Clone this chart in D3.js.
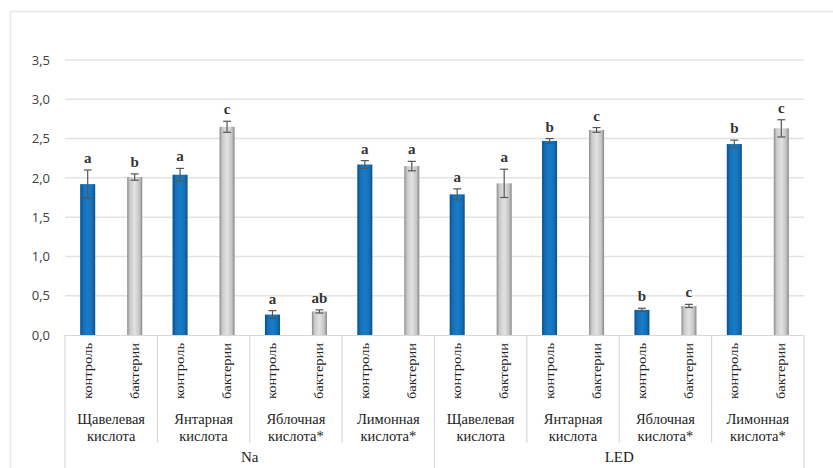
<!DOCTYPE html>
<html><head><meta charset="utf-8">
<script src="https://cdn.jsdelivr.net/npm/d3@7"></script>
<style>body{margin:0;background:#fff;} svg{display:block;}</style>
</head><body>
<svg id="c" width="833" height="468"></svg>
<script>
const groups = ["Na", "LED"];
const acids = [["Щавелевая","кислота"],["Янтарная","кислота"],["Яблочная","кислота*"],["Лимонная","кислота*"]];
const treatments = ["контроль", "бактерии"];
const controlValues = [1.92, 2.04, 0.26, 2.17, 1.79, 2.47, 0.32, 2.43];
const controlErrors = [0.18, 0.08, 0.05, 0.05, 0.07, 0.03, 0.02, 0.05];
const bacteriaValues = [2.01, 2.65, 0.30, 2.15, 1.93, 2.61, 0.37, 2.63];
const bacteriaErrors = [0.04, 0.07, 0.02, 0.06, 0.18, 0.03, 0.02, 0.11];
const controlLetters = ["a","a","a","a","a","b","b","b"];
const bacteriaLetters = ["b","c","ab","a","a","c","c","c"];
const yTicks = [0, 0.5, 1.0, 1.5, 2.0, 2.5, 3.0, 3.5];

const svg = d3.select("#c");
const x0 = 65, x1 = 804, yBase = 335, yTop = 60;
const cats = [];
groups.forEach((g, gi) => acids.forEach((a, ai) => cats.push({g, gi, a, ai, i: gi*4+ai})));

const x = d3.scaleBand().domain(cats.map(c => c.i)).range([x0, x1]).padding(0);
const xi = d3.scaleBand().domain(treatments).range([0, x.bandwidth()]).paddingInner(0.68).paddingOuter(0.323);
const y = d3.scaleLinear().domain([0, 3.5]).range([yBase, yTop]);

// chart border
svg.append("path").attr("d", `M10.5,${468} V11.5 H833`).attr("fill","none").attr("stroke","#e6e6e6").attr("stroke-width",1.5);

const defs = svg.append("defs");
function grad(id, stops){
  const g = defs.append("linearGradient").attr("id", id).attr("x1","0").attr("x2","1").attr("y1","0").attr("y2","0");
  stops.forEach(s => g.append("stop").attr("offset", s[0]).attr("stop-color", s[1]));
}
grad("gBlue", [[0,"#0a4f8c"],[0.2,"#1270b8"],[0.5,"#1a7cc6"],[0.8,"#1270b8"],[1,"#0a4f8c"]]);
grad("gGray", [[0,"#8a8a8a"],[0.18,"#c9c9c9"],[0.5,"#e2e2e2"],[0.82,"#c4c4c4"],[1,"#858585"]]);

// gridlines
svg.append("g").selectAll("line").data(yTicks.filter(t => t > 0)).join("line")
  .attr("x1", x0).attr("x2", x1).attr("y1", d => y(d)).attr("y2", d => y(d))
  .attr("stroke", "#e3e3e3").attr("stroke-width", 1.5);

// y axis labels
const yAxis = d3.axisLeft(y).tickValues(yTicks).tickSize(0).tickPadding(0)
  .tickFormat(d => d3.format(".1f")(d).replace(".", ","));
const ya = svg.append("g").attr("transform", "translate(50,0)").call(yAxis);
ya.select(".domain").remove();
ya.selectAll("text").attr("font-family", "Open Sans, sans-serif").attr("font-size", 13).attr("fill", "#404040");

// x axis baseline
svg.append("line").attr("x1", x0).attr("x2", x1).attr("y1", yBase+0.5).attr("y2", yBase+0.5).attr("stroke","#d9d9d9").attr("stroke-width",1.2);

// dividers
const divs = d3.range(0, 9).map(k => ({k, xp: x0 + k * x.step()}));
svg.append("g").selectAll("line").data(divs).join("line")
  .attr("x1", d => d.xp).attr("x2", d => d.xp)
  .attr("y1", yBase).attr("y2", d => (d.k % 4 === 0) ? 468 : 443)
  .attr("stroke", "#d9d9d9").attr("stroke-width", 1.2);

// bars
const bars = [];
cats.forEach(c => {
  bars.push({c, t: treatments[0], v: controlValues[c.i], e: controlErrors[c.i], l: controlLetters[c.i], fill: "url(#gBlue)"});
  bars.push({c, t: treatments[1], v: bacteriaValues[c.i], e: bacteriaErrors[c.i], l: bacteriaLetters[c.i], fill: "url(#gGray)"});
});
const bx = d => x(d.c.i) + xi(d.t);
svg.append("g").selectAll("rect").data(bars).join("rect")
  .attr("x", bx).attr("width", xi.bandwidth())
  .attr("y", d => y(d.v)).attr("height", d => yBase - y(d.v))
  .attr("fill", d => d.fill);

// error bars
const eb = svg.append("g").attr("stroke", "#555").attr("stroke-width", 1.2);
bars.forEach(d => {
  const cx = bx(d) + xi.bandwidth()/2;
  eb.append("line").attr("x1", cx).attr("x2", cx).attr("y1", y(d.v - d.e)).attr("y2", y(d.v + d.e));
  eb.append("line").attr("x1", cx-4).attr("x2", cx+4).attr("y1", y(d.v + d.e)).attr("y2", y(d.v + d.e));
  eb.append("line").attr("x1", cx-4).attr("x2", cx+4).attr("y1", y(d.v - d.e)).attr("y2", y(d.v - d.e));
});

// letters
svg.append("g").selectAll("text").data(bars).join("text")
  .attr("x", d => bx(d) + xi.bandwidth()/2).attr("y", d => y(d.v + d.e) - 7)
  .attr("text-anchor", "middle").attr("font-family", "Liberation Serif, serif").attr("font-size", 15)
  .attr("font-weight", "bold").attr("fill", "#333").text(d => d.l);

// treatment labels (rotated)
svg.append("g").selectAll("text").data(bars).join("text")
  .attr("transform", d => `translate(${bx(d) + xi.bandwidth()/2 + 4},343) rotate(-90)`)
  .attr("text-anchor", "end").attr("font-family", "Liberation Serif, serif").attr("font-size", 13)
  .attr("textLength", 56).attr("lengthAdjust", "spacingAndGlyphs")
  .attr("fill", "#222").text(d => d.t);

// acid labels
const al = svg.append("g").attr("font-family", "Liberation Serif, serif").attr("font-size", 14.5).attr("fill", "#222").attr("text-anchor", "middle");
cats.forEach(c => {
  const cx = x(c.i) + x.bandwidth()/2;
  al.append("text").attr("x", cx).attr("y", 424).text(c.a[0]);
  al.append("text").attr("x", cx).attr("y", 441).text(c.a[1]);
});

// group labels
svg.append("g").selectAll("text").data(groups).join("text")
  .attr("x", (d, i) => x0 + (i*4 + 2) * x.step()).attr("y", 462)
  .attr("text-anchor", "middle").attr("font-family", "Liberation Serif, serif").attr("font-size", 15)
  .attr("fill", "#222").text(d => d);
</script>
</body></html>
